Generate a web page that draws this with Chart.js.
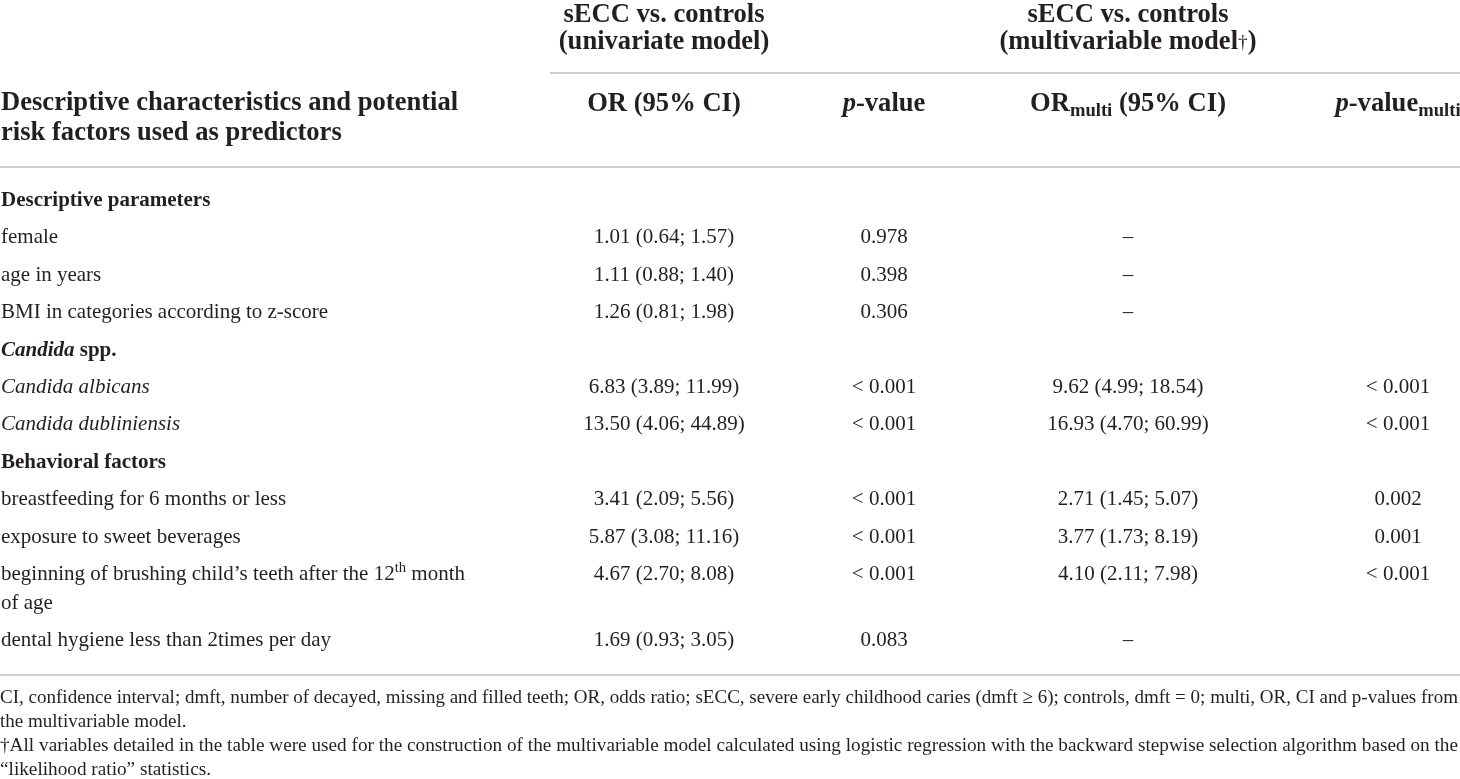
<!DOCTYPE html>
<html>
<head>
<meta charset="utf-8">
<script src="https://cdn.jsdelivr.net/npm/chart.js@4.4.1/dist/chart.umd.min.js"></script>
<style>
  html, body { margin: 0; padding: 0; background: #ffffff; }
  #wrap { width: 1460px; height: 779px; position: relative; }
</style>
</head>
<body>
<div id="wrap"><canvas id="c" width="1460" height="779"></canvas></div>
<script>
// ---------- DATA ----------
// row kinds: "s" = section heading, "i" = item
const rowLabels = [
  "Descriptive parameters",
  "female",
  "age in years",
  "BMI in categories according to z-score",
  "*Candida* spp.",
  "*Candida albicans*",
  "*Candida dubliniensis*",
  "Behavioral factors",
  "breastfeeding for 6 months or less",
  "exposure to sweet beverages",
  "beginning of brushing child’s teeth after the 12^th^ month|of age",
  "dental hygiene less than 2times per day"
];
const rowKinds = ["s","i","i","i","s","i","i","s","i","i","i","i"];

// univariate model: OR with 95% CI
const orUni    = [null, 1.01, 1.11, 1.26, null, 6.83, 13.50, null, 3.41, 5.87, 4.67, 1.69];
const ciLowUni = [null, 0.64, 0.88, 0.81, null, 3.89, 4.06,  null, 2.09, 3.08, 2.70, 0.93];
const ciHiUni  = [null, 1.57, 1.40, 1.98, null, 11.99, 44.89, null, 5.56, 11.16, 8.08, 3.05];
const pUni     = [null, "0.978", "0.398", "0.306", null, "< 0.001", "< 0.001", null, "< 0.001", "< 0.001", "< 0.001", "0.083"];

// multivariable model ("–" = not retained)
const orMulti    = [null, "–", "–", "–", null, 9.62, 16.93, null, 2.71, 3.77, 4.10, "–"];
const ciLowMulti = [null, null, null, null, null, 4.99, 4.70, null, 1.45, 1.73, 2.11, null];
const ciHiMulti  = [null, null, null, null, null, 18.54, 60.99, null, 5.07, 8.19, 7.98, null];
const pMulti     = [null, null, null, null, null, "< 0.001", "< 0.001", null, "0.002", "0.001", "< 0.001", null];

const groupHeaders = [
  "sECC vs. controls|(univariate model)",
  "sECC vs. controls|(multivariable model~†~)"
];
const columnHeaders = ["OR (95% CI)", "*p*-value", "OR_multi_ (95% CI)", "*p*-value_multi_"];
const stubHeader = "Descriptive characteristics and potential|risk factors used as predictors";
const footnotes = [
  "CI, confidence interval; dmft, number of decayed, missing and filled teeth; OR, odds ratio; sECC, severe early childhood caries (dmft ≥ 6); controls, dmft = 0; multi, OR, CI and p-values from|the multivariable model.",
  "†All variables detailed in the table were used for the construction of the multivariable model calculated using logistic regression with the backward stepwise selection algorithm based on the|“likelihood ratio” statistics."
];

// ---------- LAYOUT (styles / positions) ----------
const W = 1460, H = 779;
const FAMILY = '"Liberation Serif", "DejaVu Serif", serif';
const INK = "#231f20";
const RULE = "#cdcdcd";
const colX = [664, 884, 1128, 1398];
const groupCenters = [664, 1128];
const spanRule = [550, 1460];
const rowStart = 199, rowStep = 37.4, wrapStep = 29;
const bodySize = 21, headSize = 26.6, noteSize = 19.5;

function fmtCI(o, lo, hi) {
  if (o === null) return null;
  if (typeof o === "string") return o;
  return o.toFixed(2) + " (" + lo.toFixed(2) + "; " + hi.toFixed(2) + ")";
}

// y position (scale units) of each row's first line
const rowY = [];
(function () {
  let y = rowStart;
  rowLabels.forEach((lab) => {
    rowY.push(y);
    const lines = lab.split("|").length;
    y += rowStep + (lines - 1) * wrapStep;
  });
})();

const colTexts = [
  orUni.map((o, i) => fmtCI(o, ciLowUni[i], ciHiUni[i])),
  pUni,
  orMulti.map((o, i) => fmtCI(o, ciLowMulti[i], ciHiMulti[i])),
  pMulti
];

function pointsFor(texts, x) {
  const pts = [];
  texts.forEach((t, i) => { if (t !== null) pts.push({ x: x, y: rowY[i], t: t, k: rowKinds[i] }); });
  return pts;
}

const datasets = [
  { label: "labels", data: rowLabels.map((t, i) => ({ x: 1, y: rowY[i], t: t, k: rowKinds[i] })), align: "left" },
  { label: "OR (95% CI)", data: pointsFor(colTexts[0], colX[0]), align: "center" },
  { label: "p-value", data: pointsFor(colTexts[1], colX[1]), align: "center" },
  { label: "ORmulti (95% CI)", data: pointsFor(colTexts[2], colX[2]), align: "center" },
  { label: "p-valuemulti", data: pointsFor(colTexts[3], colX[3]), align: "center" }
];

// ---------- rich text ----------
function parseRich(s) {
  // *italic*, ^sup^, _sub_, ~small~
  const segs = [];
  let cur = "", it = false, sup = false, sub = false, sm = false;
  for (const ch of s) {
    if (ch === "*" || ch === "^" || ch === "_" || ch === "~") {
      if (cur) segs.push({ t: cur, it, sup, sub, sm });
      cur = "";
      if (ch === "*") it = !it; else if (ch === "^") sup = !sup; else if (ch === "_") sub = !sub; else sm = !sm;
    } else cur += ch;
  }
  if (cur) segs.push({ t: cur, it, sup, sub, sm });
  return segs;
}
function fontFor(seg, size, bold) {
  let sz = size;
  if (seg.sup || seg.sub) sz = size * 0.7;
  if (seg.sm) sz = size * 0.72;
  return (seg.it ? "italic " : "") + (bold && !seg.sm ? "bold " : "") + sz.toFixed(1) + "px " + FAMILY;
}
function drawRich(ctx, s, x, yMid, size, bold, align, sx) {
  sx = sx || 1;
  const segs = parseRich(s);
  let total = 0;
  segs.forEach(g => { ctx.font = fontFor(g, size, bold); g.w = ctx.measureText(g.t).width; total += g.w; });
  let cx = align === "center" ? x - total * sx / 2 : (align === "right" ? x - total * sx : x);
  const base = yMid + size * 0.33;
  ctx.save();
  ctx.textBaseline = "alphabetic";
  ctx.textAlign = "left";
  ctx.fillStyle = INK;
  segs.forEach(g => {
    ctx.font = fontFor(g, size, bold);
    let by = base;
    if (g.sup) by = base - size * 0.38;
    if (g.sub) by = base + size * 0.2;
    if (g.sm) by = base - size * 0.04;
    ctx.save();
    ctx.translate(cx, by);
    ctx.scale(sx, 1);
    ctx.fillText(g.t, 0, 0);
    ctx.restore();
    cx += g.w * sx;
  });
  ctx.restore();
  return total;
}
function measureRich(ctx, s, size, bold) {
  let total = 0;
  parseRich(s).forEach(g => { ctx.font = fontFor(g, size, bold); total += ctx.measureText(g.t).width; });
  return total;
}

// ---------- plugin drawing the table through the chart scales ----------
const tablePlugin = {
  id: "tableText",
  afterDatasetsDraw(chart) {
    const ctx = chart.ctx;
    const xs = chart.scales.x, ys = chart.scales.y;
    const px = v => xs.getPixelForValue(v), py = v => ys.getPixelForValue(v);

    // rules
    ctx.save();
    ctx.strokeStyle = RULE;
    ctx.lineWidth = 2;
    const hline = (x0, x1, y) => { ctx.beginPath(); ctx.moveTo(px(x0), py(y)); ctx.lineTo(px(x1), py(y)); ctx.stroke(); };
    hline(spanRule[0], spanRule[1], 73);
    hline(0, W, 167);
    hline(0, W, 675);
    ctx.restore();

    // group headers
    groupHeaders.forEach((g, gi) => {
      g.split("|").forEach((line, li) => {
        drawRich(ctx, line, px(groupCenters[gi]), py(13.5 + li * 26.5), headSize, true, "center");
      });
    });
    // stub header
    stubHeader.split("|").forEach((line, li) => {
      drawRich(ctx, line, px(1), py(101 + li * 30), headSize, true, "left");
    });
    // column headers
    columnHeaders.forEach((h, i) => {
      drawRich(ctx, h, px(colX[i]), py(102), headSize, true, "center");
    });

    // body cells
    chart.data.datasets.forEach((ds, di) => {
      const meta = chart.getDatasetMeta(di);
      meta.data.forEach((el, idx) => {
        const raw = ds.data[idx];
        const bold = di === 0 && raw.k === "s";
        raw.t.split("|").forEach((line, li) => {
          drawRich(ctx, line, el.x, el.y + li * wrapStep, bodySize, bold, ds.align);
        });
      });
    });

    // footnotes (condensed to the full width)
    let fy = 697;
    footnotes.forEach(f => {
      const lines = f.split("|");
      const w0 = measureRich(ctx, lines[0], noteSize, false);
      const sx = (W - 2) / w0;
      lines.forEach((line, li) => {
        drawRich(ctx, line, px(0), py(fy + li * 24), noteSize, false, "left", sx);
      });
      fy += 47.5;
    });
  }
};

new Chart(document.getElementById("c"), {
  type: "scatter",
  data: { datasets: datasets },
  options: {
    responsive: false,
    animation: false,
    devicePixelRatio: 1,
    layout: { padding: 0 },
    elements: { point: { radius: 0, hoverRadius: 0 } },
    plugins: { legend: { display: false }, tooltip: { enabled: false } },
    events: [],
    scales: {
      x: { type: "linear", min: 0, max: W, display: false },
      y: { type: "linear", min: 0, max: H, reverse: true, display: false }
    }
  },
  plugins: [tablePlugin]
});
</script>
</body>
</html>
